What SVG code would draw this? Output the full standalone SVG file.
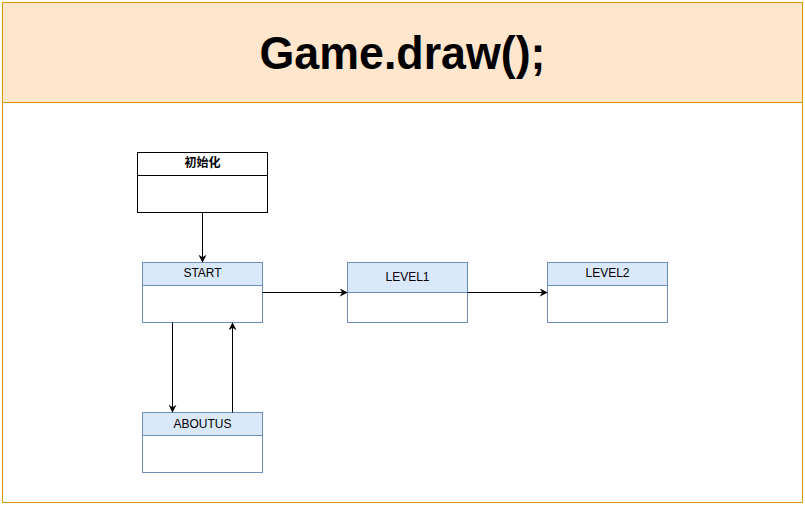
<svg xmlns="http://www.w3.org/2000/svg" width="805" height="506" viewBox="0 0 805 506">
<defs>
<marker id="arr" viewBox="0 0 10 10" refX="9" refY="5" markerWidth="8" markerHeight="8" markerUnits="userSpaceOnUse" orient="auto">
<path d="M0,0 L10,5 L0,10 L3,5 Z" fill="#000"/>
</marker>
</defs>
<style>
.lbl{font-family:"Liberation Sans",Arial,"Noto Sans CJK SC",sans-serif;font-size:12px;fill:#000;text-anchor:middle}
.blue{fill:#dae8fc;stroke:#6c8ebf;stroke-width:1}
.body{fill:#fff;stroke:#6c8ebf;stroke-width:1}
.conn{stroke:#000;stroke-width:1;fill:none;marker-end:url(#arr)}
</style>
<rect x="0" y="0" width="805" height="506" fill="#fff"/>
<g id="frame">
<rect x="2.5" y="2.5" width="800" height="500" fill="#fff" stroke="#d79b00"/>
<rect x="2.5" y="2.5" width="800" height="100" fill="#ffe6cc" stroke="#d79b00"/>
<text x="402.5" y="69" font-family="'Liberation Sans',Arial,sans-serif" font-weight="bold" font-size="47" text-anchor="middle" textLength="286" lengthAdjust="spacingAndGlyphs">Game.draw();</text>
</g>
<g id="init">
<rect x="137.5" y="152.5" width="130" height="60" fill="#fff" stroke="#000"/>
<line x1="137.5" y1="175.5" x2="267.5" y2="175.5" stroke="#000"/>
<text class="lbl" x="202.5" y="167" font-weight="bold">初始化</text>
</g>
<g id="start">
<rect class="body" x="142.5" y="262.5" width="120" height="60"/>
<rect class="blue" x="142.5" y="262.5" width="120" height="23"/>
<text class="lbl" x="202.5" y="277">START</text>
</g>
<g id="level1">
<rect class="body" x="347.5" y="262.5" width="120" height="60"/>
<rect class="blue" x="347.5" y="262.5" width="120" height="30"/>
<text class="lbl" x="407.5" y="281">LEVEL1</text>
</g>
<g id="level2">
<rect class="body" x="547.5" y="262.5" width="120" height="60"/>
<rect class="blue" x="547.5" y="262.5" width="120" height="23"/>
<text class="lbl" x="607.5" y="277">LEVEL2</text>
</g>
<g id="aboutus">
<rect class="body" x="142.5" y="412.5" width="120" height="60"/>
<rect class="blue" x="142.5" y="412.5" width="120" height="23"/>
<text class="lbl" x="202.5" y="428">ABOUTUS</text>
</g>
<g id="connectors">
<line class="conn" x1="202.5" y1="212.5" x2="202.5" y2="262"/>
<line class="conn" x1="262.5" y1="292.5" x2="347" y2="292.5"/>
<line class="conn" x1="467.5" y1="292.5" x2="547" y2="292.5"/>
<line class="conn" x1="172.5" y1="322.5" x2="172.5" y2="412"/>
<line class="conn" x1="232.5" y1="412.5" x2="232.5" y2="323"/>
</g>
</svg>
